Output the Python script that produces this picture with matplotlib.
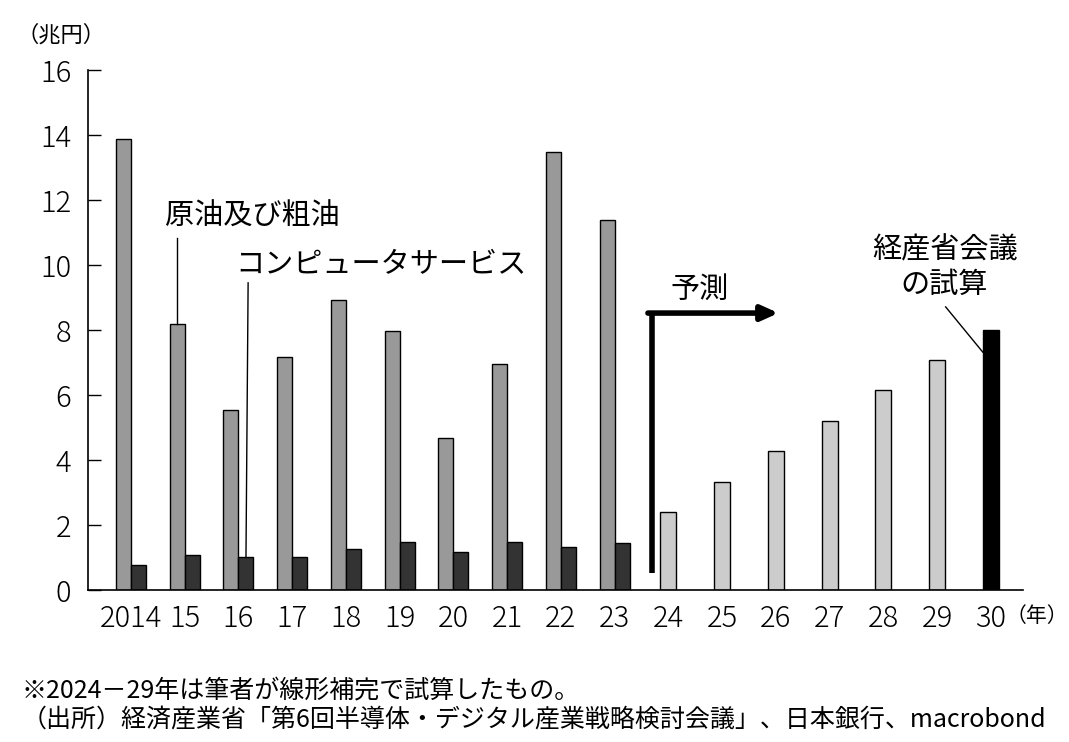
import matplotlib.pyplot as plt
import numpy as np

plt.rcParams['font.family'] = ['Noto Sans CJK JP', 'DejaVu Sans']

# 年ラベル
labels = ['2014', '15', '16', '17', '18', '19', '20', '21', '22', '23',
          '24', '25', '26', '27', '28', '29', '30']
# 実績 2014-23（兆円）
crude_oil = [13.88, 8.18, 5.54, 7.17, 8.92, 7.97, 4.68, 6.95, 13.48, 11.38]
computer = [0.77, 1.08, 1.00, 1.00, 1.26, 1.48, 1.17, 1.48, 1.32, 1.45]
# 2024-29 線形補完
forecast = [2.40, 3.32, 4.28, 5.20, 6.15, 7.08]
# 2030 経産省会議の試算
meti_2030 = 8.0

fig = plt.figure(figsize=(10.69, 7.42), dpi=100)
ax = fig.add_axes([0.0823, 0.2049, 0.8747, 0.7008])

n_hist = len(crude_oil)
x_hist = np.arange(n_hist)
x_fc = np.arange(n_hist, n_hist + len(forecast))
x_30 = n_hist + len(forecast)
w = 0.28

ax.bar(x_hist - w / 2, crude_oil, w, color='#999999', edgecolor='black', linewidth=1)
ax.bar(x_hist + w / 2, computer, w, color='#333333', edgecolor='black', linewidth=1)
ax.bar(x_fc, forecast, 0.3, color='#cccccc', edgecolor='black', linewidth=1)
ax.bar([x_30], [meti_2030], 0.3, color='black', edgecolor='black', linewidth=1)

ax.set_xlim(-0.8, 16.6)
ax.set_ylim(0, 16)
ax.set_yticks(range(0, 17, 2))
ax.set_xticks(range(len(labels)))
ax.set_xticklabels(labels)
ax.tick_params(axis='y', direction='in', length=9, width=1, labelsize=21, pad=12)
ax.tick_params(axis='x', length=0, labelsize=21, pad=10)
for t in ax.get_xticklabels() + ax.get_yticklabels():
    t.set_fontweight('light')
for s in ['top', 'right']:
    ax.spines[s].set_visible(False)
for s in ['left', 'bottom']:
    ax.spines[s].set_linewidth(1.2)

# 単位
fig.text(0.015, 0.953, '（兆円）', fontsize=16, ha='left', va='center')
ax.text(16.28, -0.8, '（年）', fontsize=15, ha='left', va='center')

# 注記
ax.text(0.63, 11.48, '原油及び粗油', fontsize=21, ha='left', va='center')
ax.plot([1 - w / 2, 1 - w / 2], [crude_oil[1], 10.83], color='black', lw=1)
ax.text(1.95, 10.0, 'コンピュータサービス', fontsize=21, ha='left', va='center')
ax.plot([2 + w / 2, 2.18], [computer[2], 9.45], color='black', lw=1)

# 予測の矢印
ax.plot([9.69, 9.69], [0.52, 8.52], color='black', lw=4, solid_capstyle='butt')
ax.annotate('', xy=(12.05, 8.52), xytext=(9.62, 8.52),
            arrowprops=dict(arrowstyle='-|>,head_length=1.0,head_width=0.45',
                            color='black', lw=4, shrinkA=0, shrinkB=0))
ax.text(10.59, 9.23, '予測', fontsize=21, ha='center', va='center')

ax.text(15.14, 9.92, '経産省会議\nの試算', fontsize=21, ha='center', va='center',
        linespacing=1.2)
ax.plot([15.16, 15.85], [8.71, 7.32], color='black', lw=1)

# 出所
fig.text(0.02, 0.07, '※2024－29年は筆者が線形補完で試算したもの。', fontsize=18,
         ha='left', va='center')
fig.text(0.02, 0.03, '（出所）経済産業省「第6回半導体・デジタル産業戦略検討会議」、日本銀行、macrobond',
         fontsize=18, ha='left', va='center')

fig.savefig('out.png', dpi=100)
